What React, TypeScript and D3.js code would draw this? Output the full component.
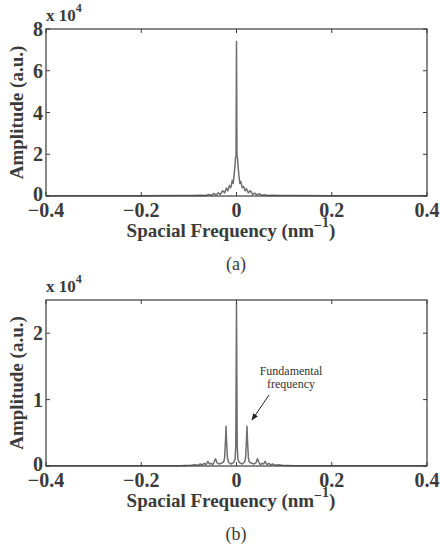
import React from "react";
import * as d3 from "d3";

// Panel (a) spectrum, amplitude in units of 1e4
const freqA = [-0.4, -0.3, -0.2, -0.12, -0.09, -0.075, -0.065, -0.058, -0.053, -0.048, -0.043, -0.038, -0.034, -0.029, -0.025, -0.021, -0.018, -0.015, -0.012, -0.009, -0.007, -0.005, -0.003, -0.002, -0.001, 0, 0.001, 0.002, 0.003, 0.005, 0.007, 0.009, 0.012, 0.015, 0.018, 0.021, 0.025, 0.029, 0.034, 0.038, 0.043, 0.048, 0.053, 0.058, 0.065, 0.075, 0.09, 0.12, 0.2, 0.3, 0.4];
const ampA = [0.01, 0.01, 0.015, 0.02, 0.02, 0.04, 0.02, 0.07, 0.03, 0.12, 0.05, 0.15, 0.08, 0.25, 0.15, 0.38, 0.25, 0.5, 0.4, 0.75, 0.6, 1.0, 1.5, 1.85, 1.9, 7.4, 1.9, 1.85, 1.5, 1.0, 0.6, 0.7, 0.4, 0.45, 0.25, 0.35, 0.15, 0.25, 0.08, 0.14, 0.05, 0.11, 0.03, 0.06, 0.02, 0.04, 0.02, 0.02, 0.015, 0.01, 0.01];

// Panel (b) spectrum, amplitude in units of 1e4
const freqB = [-0.4, -0.2, -0.12, -0.095, -0.088, -0.082, -0.076, -0.072, -0.068, -0.064, -0.06, -0.057, -0.054, -0.05, -0.047, -0.044, -0.041, -0.037, -0.032, -0.027, -0.025, -0.023, -0.022, -0.021, -0.019, -0.017, -0.012, -0.006, -0.003, -0.0015, 0, 0.0015, 0.003, 0.006, 0.012, 0.017, 0.019, 0.021, 0.022, 0.023, 0.025, 0.027, 0.032, 0.037, 0.041, 0.044, 0.047, 0.05, 0.054, 0.057, 0.06, 0.064, 0.068, 0.072, 0.076, 0.082, 0.088, 0.095, 0.12, 0.2, 0.4];
const ampB = [0.003, 0.005, 0.005, 0.01, 0.02, 0.01, 0.03, 0.015, 0.04, 0.02, 0.07, 0.03, 0.04, 0.02, 0.06, 0.11, 0.05, 0.03, 0.04, 0.06, 0.12, 0.4, 0.6, 0.4, 0.12, 0.06, 0.03, 0.05, 0.1, 0.3, 2.45, 0.3, 0.1, 0.05, 0.03, 0.06, 0.12, 0.4, 0.6, 0.4, 0.12, 0.06, 0.04, 0.03, 0.05, 0.11, 0.06, 0.02, 0.04, 0.03, 0.07, 0.02, 0.04, 0.015, 0.03, 0.01, 0.02, 0.01, 0.005, 0.005, 0.003];

const xTicks = [-0.4, -0.2, 0, 0.2, 0.4];
const xTickLabels = ["\u22120.4", "\u22120.2", "0", "0.2", "0.4"];
const yTicksA = [0, 2, 4, 6, 8];
const yTicksB = [0, 1, 2];

const SERIF = "Liberation Serif";
const AXIS = "#3a3a3a";
const LINE = "#6e6e6e";

type PanelProps = {
  top: number;
  bottom: number;
  yMax: number;
  yTicks: number[];
  freq: number[];
  amp: number[];
  caption: string;
  children?: React.ReactNode;
};

const LEFT = 46;
const RIGHT = 427;

function Panel({ top, bottom, yMax, yTicks, freq, amp, caption, children }: PanelProps) {
  const x = d3.scaleLinear().domain([-0.4, 0.4]).range([LEFT, RIGHT]);
  const y = d3.scaleLinear().domain([0, yMax]).range([bottom, top]);
  const pts: [number, number][] = freq.map((f, i) => [f, amp[i]]);
  const line = d3
    .line<[number, number]>()
    .x((d) => x(d[0]))
    .y((d) => y(d[1]));
  const tl = 4;
  return (
    <g>
      <path d={line(pts) || ""} fill="none" stroke={LINE} strokeWidth={1.5} strokeLinejoin="round" />
      <rect x={LEFT} y={top} width={RIGHT - LEFT} height={bottom - top} fill="none" stroke={AXIS} strokeWidth={1.2} />
      {xTicks.map((t, i) => (
        <g key={"x" + i}>
          <line x1={x(t)} x2={x(t)} y1={bottom} y2={bottom - tl} stroke={AXIS} />
          <line x1={x(t)} x2={x(t)} y1={top} y2={top + tl} stroke={AXIS} />
          <text x={x(t)} y={bottom + 21} textAnchor="middle" fontFamily={SERIF} fontWeight="bold" fontSize={20} fill={AXIS}>
            {xTickLabels[i]}
          </text>
        </g>
      ))}
      {yTicks.map((t, i) => (
        <g key={"y" + i}>
          <line x1={LEFT} x2={LEFT + tl} y1={y(t)} y2={y(t)} stroke={AXIS} />
          <line x1={RIGHT} x2={RIGHT - tl} y1={y(t)} y2={y(t)} stroke={AXIS} />
          <text x={LEFT - 3} y={y(t) + (t === 0 ? 5 : 7)} textAnchor="end" fontFamily={SERIF} fontWeight="bold" fontSize={20} fill={AXIS}>
            {t}
          </text>
        </g>
      ))}
      <text x={46} y={top - 8} fontFamily={SERIF} fontWeight="bold" fontSize={17} fill={AXIS}>
        x 10
        <tspan dy={-9} fontSize={12}>4</tspan>
      </text>
      <text
        transform={`translate(23,${(top + bottom) / 2}) rotate(-90)`}
        textAnchor="middle"
        fontFamily={SERIF}
        fontWeight="bold"
        fontSize={19}
        fill={AXIS}
      >
        Amplitude (a.u.)
      </text>
      <text x={231} y={bottom + 41} textAnchor="middle" fontFamily={SERIF} fontWeight="bold" fontSize={19} fill={AXIS}>
        Spacial Frequency (nm
        <tspan dy={-7} fontSize={14}>{"\u2212"}</tspan>
        <tspan dy={-3} fontSize={14}>1</tspan>
        <tspan dy={10}>)</tspan>
      </text>
      <text x={236} y={bottom + 74} textAnchor="middle" fontFamily={SERIF} fontSize={18} fill={AXIS}>
        {caption}
      </text>
      {children}
    </g>
  );
}

export default function App() {
  return (
    <svg width={440} height={554} style={{ position: "absolute", left: 0, top: 0, background: "#fff" }}>
      <defs>
        <marker id="arrow" viewBox="0 0 10 10" refX={9} refY={5} markerWidth={7} markerHeight={7} orient="auto-start-reverse">
          <path d="M0,1 L10,5 L0,9 Z" fill="#222" />
        </marker>
      </defs>
      <Panel top={29} bottom={196} yMax={8} yTicks={yTicksA} freq={freqA} amp={ampA} caption="(a)" />
      <Panel top={300} bottom={466} yMax={2.5} yTicks={yTicksB} freq={freqB} amp={ampB} caption="(b)">
        <text x={291} y={375} textAnchor="middle" fontFamily={SERIF} fontSize={12} fill="#333">
          Fundamental
        </text>
        <text x={291} y={388} textAnchor="middle" fontFamily={SERIF} fontSize={12} fill="#333">
          frequency
        </text>
        <line x1={269} y1={395} x2={252} y2={420} stroke="#222" strokeWidth={1} markerEnd="url(#arrow)" />
      </Panel>
    </svg>
  );
}
